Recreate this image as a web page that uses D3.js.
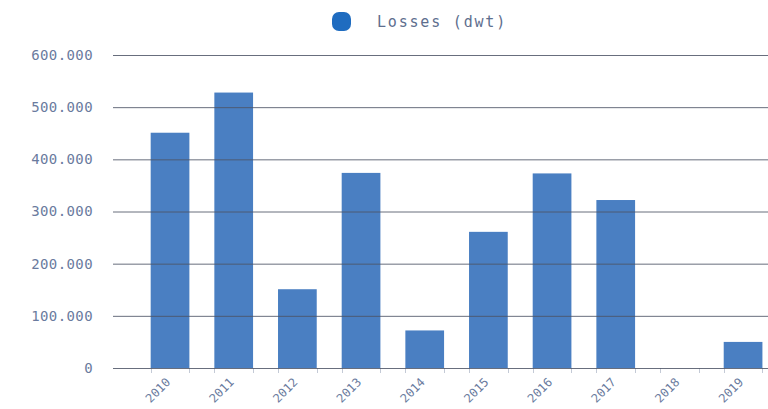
<!DOCTYPE html>
<html>
<head>
<meta charset="utf-8">
<script src="https://cdn.jsdelivr.net/npm/d3@7"></script>
<style>
  html, body { margin: 0; padding: 0; background: #ffffff; }
  svg { display: block; }
  text { font-family: "DejaVu Sans Mono", monospace; }
</style>
</head>
<body>
<svg id="chart" width="768" height="409"></svg>
<script>
// Yearly losses in deadweight tonnes
const years = ["2010", "2011", "2012", "2013", "2014", "2015", "2016", "2017", "2018", "2019"];
const losses = [451000, 528000, 151000, 374000, 72000, 261000, 373000, 322000, 0, 50000];
const yTicks = [0, 100000, 200000, 300000, 400000, 500000, 600000];
const seriesName = "Losses (dwt)";

const W = 768, H = 409;
const barColor = "#4a7fc2";
const textColor = "#6a7b9e";

const svg = d3.select("#chart");

// dot as thousands separator
const locale = d3.formatLocale({ decimal: ",", thousands: ".", grouping: [3], currency: ["", ""] });
const fmt = locale.format(",d");

const x = d3.scaleBand()
  .domain(years)
  .range([138.2, 774.9])
  .paddingInner(0.392)
  .paddingOuter(0.196);

const y = d3.scaleLinear()
  .domain([0, 600000])
  .range([368, 55]);

// bars
svg.append("g")
  .selectAll("rect")
  .data(years)
  .join("rect")
  .attr("x", d => x(d))
  .attr("width", x.bandwidth())
  .attr("y", (d, i) => y(losses[i]))
  .attr("height", (d, i) => y(0) - y(losses[i]))
  .attr("fill", barColor);

// small marks under the baseline at each bar edge
const edges = [];
years.forEach(d => { edges.push(x(d)); edges.push(x(d) + x.bandwidth()); });
svg.append("g")
  .selectAll("line")
  .data(edges)
  .join("line")
  .attr("x1", d => Math.round(d) + 0.5)
  .attr("x2", d => Math.round(d) + 0.5)
  .attr("y1", y(0))
  .attr("y2", y(0) + 5)
  .attr("stroke", "#c4cad6")
  .attr("stroke-width", 1);

// horizontal grid, drawn over the bars
const yAxis = d3.axisLeft(y)
  .tickValues(yTicks)
  .tickFormat(d => fmt(d))
  .tickSize(-(W - 113))
  .tickPadding(20);

const gy = svg.append("g")
  .attr("transform", "translate(113,0)")
  .call(yAxis);
gy.select(".domain").remove();
gy.selectAll(".tick line")
  .attr("stroke", "#4d5566")
  .attr("stroke-opacity", 0.85)
  .attr("stroke-width", 1);
gy.selectAll(".tick text")
  .attr("fill", textColor)
  .attr("font-size", 14)
  .attr("letter-spacing", 0.4)
  .attr("font-family", "DejaVu Sans Mono, monospace");

// x axis labels, slanted
const gx = svg.append("g")
  .attr("transform", `translate(0,${y(0)})`)
  .call(d3.axisBottom(x).tickSize(0).tickPadding(0));
gx.select(".domain").remove();
gx.selectAll(".tick text")
  .attr("fill", textColor)
  .attr("font-size", 12)
  .attr("font-family", "DejaVu Sans Mono, monospace")
  .attr("text-anchor", "end")
  .attr("dy", "0")
  .attr("y", 0)
  .attr("transform", "translate(1,15) rotate(-45)");

// legend
const legend = svg.append("g");
legend.append("rect")
  .attr("x", 332)
  .attr("y", 12)
  .attr("width", 19)
  .attr("height", 19)
  .attr("rx", 7)
  .attr("fill", "#1f6cc0");
legend.append("text")
  .attr("x", 377)
  .attr("y", 22)
  .attr("dy", "0.35em")
  .attr("font-size", 15)
  .attr("letter-spacing", 1.8)
  .attr("fill", "#5e6e8e")
  .attr("font-family", "DejaVu Sans Mono, monospace")
  .text(seriesName);
</script>
</body>
</html>
